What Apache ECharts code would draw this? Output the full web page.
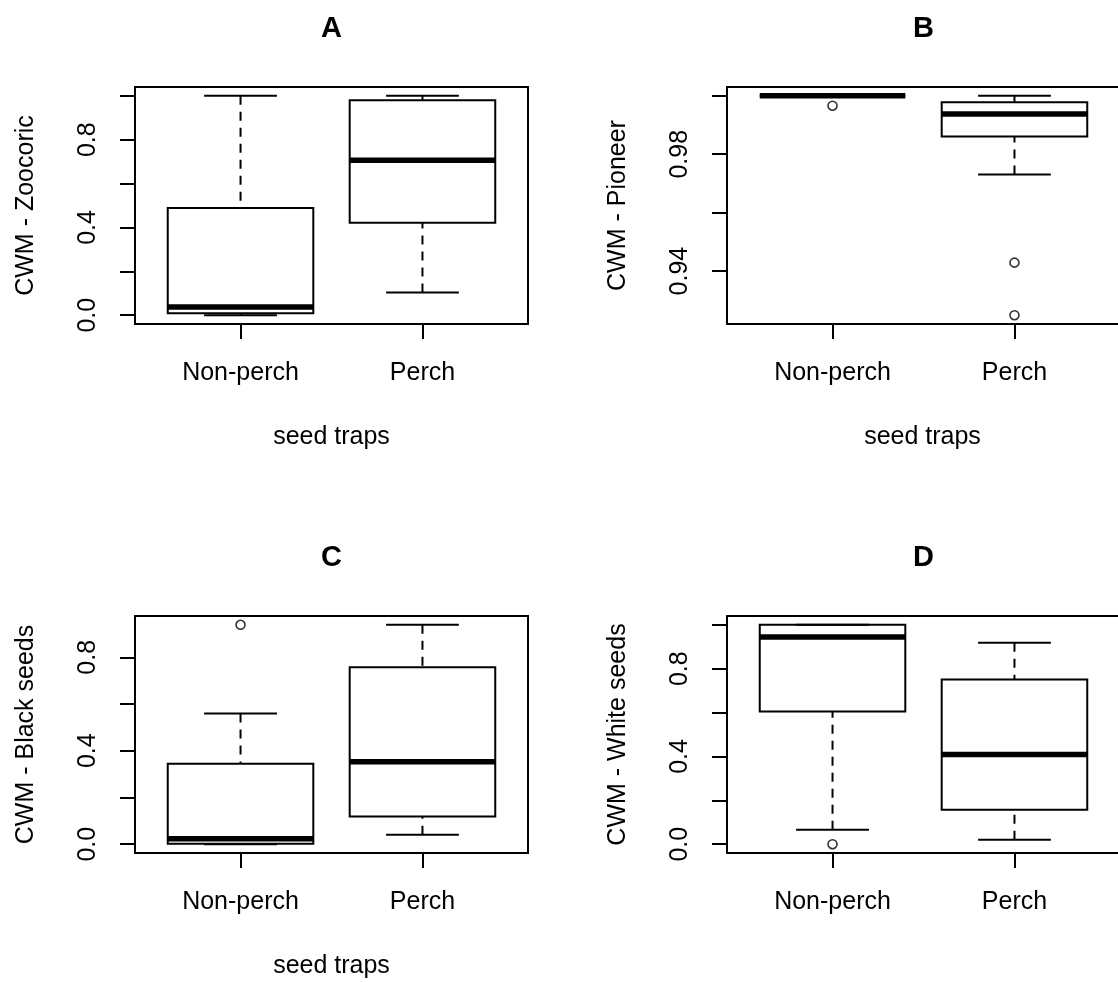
<!DOCTYPE html>
<html>
<head>
<meta charset="utf-8">
<script src="https://cdn.jsdelivr.net/npm/echarts@6/dist/echarts.min.js"></script>
<style>
  html, body { margin: 0; padding: 0; background: #fff; }
  #chart { width: 1118px; height: 983px; }
</style>
</head>
<body>
<div id="chart"></div>
<script>
// Groups on the x axis
const groups = ['Non-perch', 'Perch'];

// Box statistics per group: [lower whisker, Q1, median, Q3, upper whisker]
const zoocoric = [
  [0.000, 0.009, 0.037, 0.489, 1.000],
  [0.103, 0.421, 0.706, 0.980, 1.000]
];
const zoocoricOutliers = [[], []];

const pioneer = [
  [1.0000, 1.0000, 1.0000, 1.0000, 1.0000],
  [0.9731, 0.9861, 0.9938, 0.9978, 1.0000]
];
const pioneerOutliers = [[0.9966], [0.9429, 0.9249]];

const blackSeeds = [
  [0.000, 0.002, 0.023, 0.344, 0.559],
  [0.041, 0.119, 0.353, 0.757, 0.939]
];
const blackSeedsOutliers = [[0.939], []];

const whiteSeeds = [
  [0.066, 0.605, 0.944, 1.000, 1.000],
  [0.020, 0.157, 0.409, 0.751, 0.918]
];
const whiteSeedsOutliers = [[0.000], []];

// Tick positions and the subset of ticks that carry a label
const unitTicks = [0, 0.2, 0.4, 0.6, 0.8, 1.0];
const unitLabels = [0, 0.4, 0.8];
const pioneerTicks = [0.94, 0.96, 0.98, 1.00];
const pioneerLabels = [0.94, 0.98];
const blackTicks = [0, 0.2, 0.4, 0.6, 0.8];
const blackLabels = [0, 0.4, 0.8];

const panelTitles = ['A', 'B', 'C', 'D'];
const yTitles = ['CWM - Zoocoric', 'CWM - Pioneer', 'CWM - Black seeds', 'CWM - White seeds'];
const xTitle = 'seed traps';

const FONT = '"Liberation Sans", Arial, Helvetica, sans-serif';
const TEXT_SIZE = 25;
const FULL_W = 393;             // full plot-frame width in px
const PX_PER_UNIT = FULL_W / 2.16;

// Right-hand panels run off the page edge, so their frame is open on the right
const panels = [
  { stats: zoocoric, outliers: zoocoricOutliers, ticks: unitTicks, labels: unitLabels, digits: 1,
    grid: { left: 135, top: 87, width: 393, height: 237 }, showXTitle: true, openRight: false },
  { stats: pioneer, outliers: pioneerOutliers, ticks: pioneerTicks, labels: pioneerLabels, digits: 2,
    grid: { left: 727, top: 87, width: 391, height: 237 }, showXTitle: true, openRight: true },
  { stats: blackSeeds, outliers: blackSeedsOutliers, ticks: blackTicks, labels: blackLabels, digits: 1,
    grid: { left: 135, top: 616, width: 393, height: 237 }, showXTitle: true, openRight: false },
  { stats: whiteSeeds, outliers: whiteSeedsOutliers, ticks: unitTicks, labels: unitLabels, digits: 1,
    grid: { left: 727, top: 616, width: 391, height: 237 }, showXTitle: false, openRight: true }
];

// Axis range padded by 4% of the data span on each side
function paddedRange(stats, outliers) {
  const all = stats.flat().concat(outliers.flat());
  const lo = Math.min(...all), hi = Math.max(...all);
  const pad = (hi - lo) * 0.04;
  return [lo - pad, hi + pad];
}

// Box, dashed whiskers, staples and a heavy median line
function renderBox(params, api) {
  const x = api.value(0);
  const v = [1, 2, 3, 4, 5].map(i => api.value(i));
  const y = v.map(val => api.coord([x, val])[1]);
  const cx = api.coord([x, v[0]])[0];
  const boxHalf = api.size([0.4, 0])[0];
  const capHalf = api.size([0.2, 0])[0];
  const thin = { stroke: '#000', lineWidth: 2, fill: null };
  const dashed = { stroke: '#000', lineWidth: 2, lineDash: [9, 7], fill: null };
  return {
    type: 'group',
    children: [
      { type: 'line', shape: { x1: cx, y1: y[4], x2: cx, y2: y[3] }, style: dashed },
      { type: 'line', shape: { x1: cx, y1: y[0], x2: cx, y2: y[1] }, style: dashed },
      { type: 'line', shape: { x1: cx - capHalf, y1: y[4], x2: cx + capHalf, y2: y[4] }, style: thin },
      { type: 'line', shape: { x1: cx - capHalf, y1: y[0], x2: cx + capHalf, y2: y[0] }, style: thin },
      { type: 'rect', shape: { x: cx - boxHalf, y: y[3], width: 2 * boxHalf, height: y[1] - y[3] },
        style: { stroke: '#000', lineWidth: 2, fill: null } },
      { type: 'line', shape: { x1: cx - boxHalf, y1: y[2], x2: cx + boxHalf, y2: y[2] },
        style: { stroke: '#000', lineWidth: 5.5, fill: null } }
    ]
  };
}

const option = {
  backgroundColor: '#fff',
  animation: false,
  textStyle: { fontFamily: FONT },
  title: [],
  grid: [],
  xAxis: [],
  yAxis: [],
  series: []
};

const frameLine = { show: true, onZero: false, lineStyle: { color: '#000', width: 2 } };
const noLine = { show: false, onZero: false };
const extraTopAxes = [];

panels.forEach((p, i) => {
  const [ymin, ymax] = paddedRange(p.stats, p.outliers);
  const g = p.grid;
  const xmin = 0.42;
  const xmax = xmin + g.width / PX_PER_UNIT;
  option.title.push({
    text: panelTitles[i],
    left: g.left + FULL_W / 2,
    top: g.top - 73,
    padding: 0,
    textAlign: 'center',
    textStyle: { fontFamily: FONT, fontSize: 29, fontWeight: 'bold', color: '#000' }
  });
  option.grid.push(Object.assign({
    show: !p.openRight, borderColor: '#000', borderWidth: 2, backgroundColor: 'transparent', containLabel: false
  }, g));
  option.xAxis.push({
    type: 'value', gridIndex: i, min: xmin, max: xmax, position: 'bottom',
    name: p.showXTitle ? xTitle : '', nameLocation: 'middle', nameGap: 101,
    nameTextStyle: { fontFamily: FONT, fontSize: TEXT_SIZE, color: '#000' },
    axisLine: p.openRight ? frameLine : noLine,
    splitLine: { show: false },
    axisTick: { show: true, customValues: [1, 2], length: 15, lineStyle: { color: '#000', width: 2 } },
    axisLabel: { show: true, customValues: [1, 2], margin: 37, fontFamily: FONT, fontSize: TEXT_SIZE, color: '#000',
      formatter: v => groups[Math.round(v) - 1] }
  });
  if (p.openRight) {
    // top edge of the open frame
    extraTopAxes.push({
      type: 'value', gridIndex: i, min: xmin, max: xmax, position: 'top',
      axisLine: frameLine, axisTick: { show: false }, axisLabel: { show: false }, splitLine: { show: false }
    });
  }
  option.yAxis.push({
    type: 'value', gridIndex: i, min: ymin, max: ymax, position: 'left',
    name: yTitles[i], nameLocation: 'middle', nameGap: 96, nameRotate: 90,
    nameTextStyle: { fontFamily: FONT, fontSize: TEXT_SIZE, color: '#000' },
    axisLine: p.openRight ? frameLine : noLine,
    splitLine: { show: false },
    axisTick: { show: true, customValues: p.ticks, length: 15, lineStyle: { color: '#000', width: 2 } },
    axisLabel: { show: true, customValues: p.labels, rotate: 90, margin: 34, fontFamily: FONT, fontSize: TEXT_SIZE,
      color: '#000', formatter: v => Number(v).toFixed(p.digits) }
  });
  option.series.push({
    type: 'custom', xAxisIndex: i, yAxisIndex: i, clip: false,
    renderItem: renderBox,
    encode: { x: 0, y: [1, 2, 3, 4, 5] },
    data: p.stats.map((s, k) => [k + 1].concat(s))
  });
  const pts = [];
  p.outliers.forEach((arr, k) => arr.forEach(v => pts.push([k + 1, v])));
  option.series.push({
    type: 'scatter', xAxisIndex: i, yAxisIndex: i, clip: false,
    symbol: 'circle', symbolSize: 9,
    itemStyle: { color: '#fff', borderColor: '#000', borderWidth: 1.6 },
    data: pts
  });
});
option.xAxis = option.xAxis.concat(extraTopAxes);

const chart = echarts.init(document.getElementById('chart'), null, { renderer: 'canvas' });
chart.setOption(option);
</script>
</body>
</html>
